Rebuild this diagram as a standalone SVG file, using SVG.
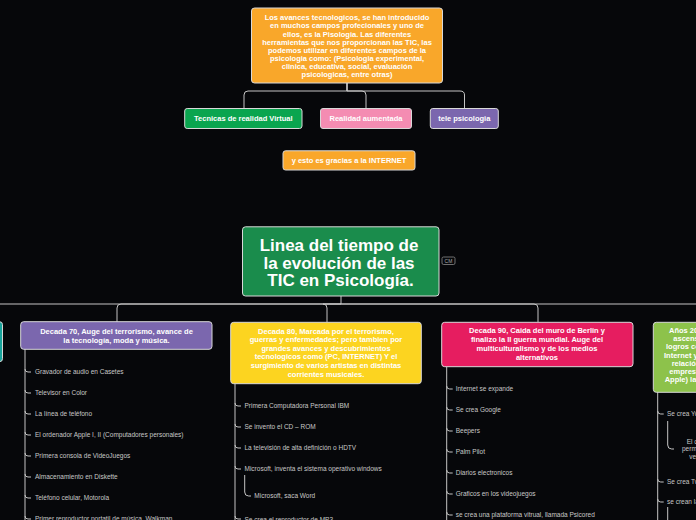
<svg xmlns="http://www.w3.org/2000/svg" width="696" height="520" viewBox="0 0 696 520">
<style>
.bg{fill:#06070a}
.box{stroke:#d8d8d8;stroke-width:1}
.bt{font-family:"Liberation Sans",Arial,sans-serif;font-weight:bold;font-size:7.5px;fill:#ffffff;text-anchor:middle}
.bs{font-family:"Liberation Sans",Arial,sans-serif;font-weight:bold;font-size:7.5px;fill:#ffffff}
.tt{font-family:"Liberation Sans",Arial,sans-serif;font-weight:bold;font-size:17px;fill:#ffffff;text-anchor:middle}
.it{font-family:"Liberation Sans",Arial,sans-serif;font-size:6.5px;fill:#c8c8c8}
.ln{fill:none;stroke:#c4c4c4;stroke-width:1}
.cm{font-family:"Liberation Sans",Arial,sans-serif;font-size:5px;fill:#aaaaaa;text-anchor:middle}
</style>
<rect class="bg" x="0" y="0" width="696" height="520"/>
<g id="connectors">
  <path class="ln" d="M347,83 V91 H248 Q244,91 244,95 V108"/>
  <path class="ln" d="M347,83 V91 H362 Q366,91 366,95 V108"/>
  <path class="ln" d="M347,83 V91 H460 Q464.5,91 464.5,95 V108"/>
  <path class="ln" d="M341,296 V304 H0"/>
  <path class="ln" d="M341,304 H121 Q117,304 117,308 V322"/>
  <path class="ln" d="M341,304 H323 Q327,304 327,308 V322"/>
  <path class="ln" d="M341,304 H534 Q538,304 538,308 V322"/>
  <path class="ln" d="M341,304 H696"/>
  <path class="ln" d="M25,349 V520"/>
  <path class="ln" d="M235,384 V520"/>
  <path class="ln" d="M446.7,367 V520"/>
  <path class="ln" d="M657.7,392 V520"/>
  <path class="ln" d="M25,369 Q25,372 28,372 H31 M25,390 Q25,393 28,393 H31 M25,411 Q25,414 28,414 H31 M25,432 Q25,435 28,435 H31 M25,453 Q25,456 28,456 H31 M25,474 Q25,477 28,477 H31 M25,495 Q25,498 28,498 H31 M25,516 Q25,519 28,519 H31"/>
  <path class="ln" d="M235,403 Q235,406 238,406 H241 M235,424 Q235,427 238,427 H241 M235,445 Q235,448 238,448 H241 M235,466 Q235,469 238,469 H241 M235,516 Q235,519 238,519 H241"/>
  <path class="ln" d="M244.7,475 V492 Q244.7,496 248.7,496 H251"/>
  <path class="ln" d="M446.7,386 Q446.7,389 449.7,389 H452.7 M446.7,407 Q446.7,410 449.7,410 H452.7 M446.7,428 Q446.7,431 449.7,431 H452.7 M446.7,449 Q446.7,452 449.7,452 H452.7 M446.7,470 Q446.7,473 449.7,473 H452.7 M446.7,491 Q446.7,494 449.7,494 H452.7 M446.7,512 Q446.7,515 449.7,515 H452.7"/>
  <path class="ln" d="M657.7,411 Q657.7,414 660.7,414 H663.7 M657.7,479 Q657.7,482 660.7,482 H663.7 M657.7,499 Q657.7,502 660.7,502 H663.7"/>
  <path class="ln" d="M667.7,421 V445 Q667.7,449 671.7,449 H674"/>
  <path class="ln" d="M667.7,507 V520"/>
</g>
<g id="intro">
  <rect class="box" x="251.5" y="8" width="191" height="75" rx="3" fill="#f9a72a"/>
  <text class="bt" x="347" y="20.3">Los avances tecnologicos, se han introducido</text>
  <text class="bt" x="347" y="28.4">en muchos campos profecionales y uno de</text>
  <text class="bt" x="347" y="36.5">ellos, es la Pisologia. Las diferentes</text>
  <text class="bt" x="347" y="44.6">herramientas que nos proporcionan las TIC, las</text>
  <text class="bt" x="347" y="52.7">podemos utilizar en diferentes campos de la</text>
  <text class="bt" x="347" y="60.8">psicologia como: (Psicologia experimental,</text>
  <text class="bt" x="347" y="68.9">clinica, educativa, social, evaluación</text>
  <text class="bt" x="347" y="77">psicologicas, entre otras)</text>
</g>
<g id="realidad-virtual">
  <rect class="box" x="184.7" y="108.5" width="117.3" height="20" rx="2.5" fill="#0aa54f"/>
  <text class="bt" x="243.3" y="121.2">Tecnicas de realidad Virtual</text>
</g>
<g id="realidad-aumentada">
  <rect class="box" x="320.5" y="108.5" width="91" height="20" rx="2.5" fill="#f48cb2"/>
  <text class="bt" x="366" y="121.2">Realidad aumentada</text>
</g>
<g id="telepsicologia">
  <rect class="box" x="430.3" y="108.5" width="68" height="20" rx="2.5" fill="#7b67ae"/>
  <text class="bt" x="464.3" y="121.2">tele psicologia</text>
</g>
<g id="internet">
  <rect class="box" x="283" y="150.8" width="132" height="19.2" rx="2.5" fill="#f9a72a"/>
  <text class="bt" x="349" y="163">y esto es gracias a la INTERNET</text>
</g>
<g id="titulo">
  <rect class="box" x="242.5" y="226.8" width="196.5" height="69.2" rx="3" fill="#1a8c4c"/>
  <text class="tt" x="339" y="251">Linea del tiempo de</text>
  <text class="tt" x="339" y="268.7">la evolución de las</text>
  <text class="tt" x="340.5" y="286.3">TIC en Psicología.</text>
  <rect x="442" y="257" width="13" height="7.5" rx="1.5" fill="none" stroke="#8a8a8a" stroke-width="0.8"/>
  <text class="cm" x="448.5" y="262.6">CM</text>
</g>
<g id="decada-60">
  <rect class="box" x="-190" y="321.7" width="192.5" height="40" rx="3" fill="#17a39b"/>
</g>
<g id="decada-70">
  <rect class="box" x="20.7" y="321.7" width="191.3" height="27.6" rx="3" fill="#7b67ae"/>
  <text class="bt" x="116.5" y="334.3">Decada 70, Auge del terrorismo, avance de</text>
  <text class="bt" x="116.5" y="342.6">la tecnología, moda y música.</text>
  <text class="it" x="35" y="374.3">Gravador de audio en Casetes</text>
  <text class="it" x="35" y="395.3">Televisor en Color</text>
  <text class="it" x="35" y="416.3">La línea de teléfono</text>
  <text class="it" x="35" y="437.3">El ordenador Apple I, II (Computadores personales)</text>
  <text class="it" x="35" y="458.3">Primera consola de VideoJuegos</text>
  <text class="it" x="35" y="479.3">Almacenamiento en Diskette</text>
  <text class="it" x="35" y="500.3">Teléfono celular, Motorola</text>
  <text class="it" x="35" y="521.3">Primer reproductor portatil de música, Walkman</text>
</g>
<g id="decada-80">
  <rect class="box" x="230.7" y="322.3" width="190.6" height="61.4" rx="3" fill="#fcd420"/>
  <text class="bt" x="326" y="333.5">Decada 80, Marcada por el terrorismo,</text>
  <text class="bt" x="326" y="342.1">guerras y enfermedades; pero tambien por</text>
  <text class="bt" x="326" y="350.8">grandes avances y descubrimientos</text>
  <text class="bt" x="326" y="359.4">tecnologicos como (PC, INTERNET) Y el</text>
  <text class="bt" x="326" y="368.1">surgimiento de varios artistas en distintas</text>
  <text class="bt" x="326" y="376.7">corrientes musicales.</text>
  <text class="it" x="244.5" y="408">Primera Computadora Personal IBM</text>
  <text class="it" x="244.5" y="429">Se invento el CD – ROM</text>
  <text class="it" x="244.5" y="450">La televisión de alta definición o HDTV</text>
  <text class="it" x="244.5" y="471">Microsoft, inventa el sistema operativo windows</text>
  <text class="it" x="254.3" y="498.3">Microsoft, saca Word</text>
  <text class="it" x="244.5" y="521.5">Se crea el reproductor de MP3</text>
</g>
<g id="decada-90">
  <rect class="box" x="441.7" y="322.3" width="191.3" height="44.4" rx="3" fill="#e61d60"/>
  <text class="bt" x="537" y="333.3">Decada 90, Caida del muro de Berlin y</text>
  <text class="bt" x="537" y="342.1">finalizo la II guerra mundial. Auge del</text>
  <text class="bt" x="537" y="350.9">multiculturalismo y de los medios</text>
  <text class="bt" x="537" y="359.7">alternativos</text>
  <text class="it" x="455.7" y="391.3">Internet se expande</text>
  <text class="it" x="455.7" y="412.3">Se crea Google</text>
  <text class="it" x="455.7" y="433.3">Beepers</text>
  <text class="it" x="455.7" y="454.3">Palm  Pilot</text>
  <text class="it" x="455.7" y="475.3">Diarios electronicos</text>
  <text class="it" x="455.7" y="496.3">Graficos en los videojuegos</text>
  <text class="it" x="455.7" y="517.3">se crea una plataforma vitrual, llamada Psicored</text>
</g>
<g id="anos-2000">
  <rect class="box" x="653.3" y="322.3" width="191" height="70" rx="3" fill="#8dc24b"/>
  <text class="bs" x="669" y="332.6">Años 2000, el gran</text>
  <text class="bs" x="673.3" y="340.9">ascenso de las</text>
  <text class="bs" x="666" y="349.2">logros con el</text>
  <text class="bs" x="664" y="357.5">Internet y la</text>
  <text class="bs" x="671.7" y="365.8">relación entre</text>
  <text class="bs" x="669.3" y="374.1">empresas (Google,</text>
  <text class="bs" x="664.7" y="382.4">Apple) la</text>
  <text class="it" x="667" y="416.3">Se crea YouTube</text>
  <text class="it" x="686.7" y="444">El cual</text>
  <text class="it" x="682" y="451.3">permite</text>
  <text class="it" x="689.3" y="458.6">ver</text>
  <text class="it" x="667" y="484.3">Se crea Twitter</text>
  <text class="it" x="667" y="504.3">se crean las</text>
</g>
</svg>
